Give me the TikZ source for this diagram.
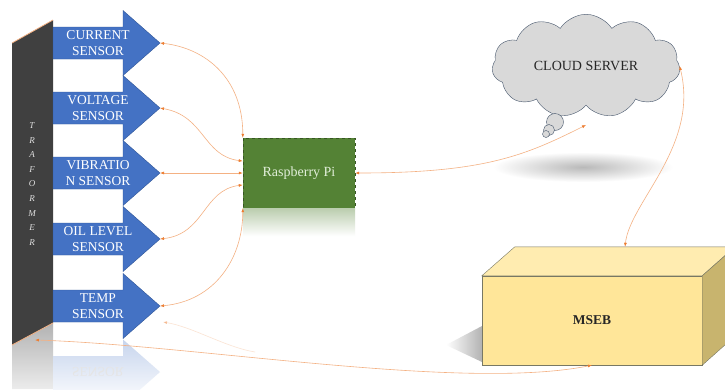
\documentclass[tikz,border=0pt]{standalone}
\usepackage{fontspec}
\setmainfont{Liberation Serif}
\usepackage{tikz}
\usetikzlibrary{calc,arrows.meta,positioning,shapes.symbols}
\definecolor{sensorBlue}{RGB}{68,114,196}
\definecolor{sensorBlueDark}{RGB}{47,85,151}
\definecolor{piGreen}{RGB}{84,130,53}
\definecolor{piGreenDark}{RGB}{55,86,35}
\definecolor{piText}{RGB}{226,239,218}
\definecolor{linkOrange}{RGB}{244,177,131}
\definecolor{tipOrange}{RGB}{237,125,49}
\definecolor{trGray}{RGB}{64,64,64}
\definecolor{cloudGray}{RGB}{217,217,217}
\definecolor{cloudEdge}{RGB}{68,84,106}
\definecolor{boxFront}{RGB}{255,230,153}
\definecolor{boxTop}{RGB}{255,236,176}
\definecolor{boxSide}{RGB}{200,180,110}
\definecolor{boxEdge}{RGB}{120,120,100}
\definecolor{darkText}{RGB}{38,38,38}

\tikzset{
  sensorarrow/.style={fill=sensorBlue, draw=sensorBlueDark, line width=0.4pt},
  sensorlabel/.style={text=white, align=center, inner sep=0pt,
    font=\fontsize{13.5}{16}\selectfont},
  link/.style={draw=linkOrange, line width=0.6pt,
    >={Latex[length=4pt,width=3pt,color=tipOrange]}, <->},
  pibox/.style={rectangle, fill=piGreen, draw=piGreenDark, dashed,
    minimum width=112pt, minimum height=70pt, text=piText,
    font=\fontsize{14}{16}\selectfont},
}

\begin{document}
\begin{tikzpicture}[x=1pt, y=-1pt]
    \useasboundingbox (0,0) rectangle (725,389);
    \clip (0,0) rectangle (725,389);
    \fill[white] (0,0) rectangle (725,389);

    % transformer bar and its reflection
    \shade[top color=gray!60, bottom color=gray!15] (12,345) -- (53,323) -- (53,389) -- (12,389) -- cycle;
    \fill[trGray] (12,43) -- (53,20) -- (53,323) -- (12,345) -- cycle;
    \draw[linkOrange, line width=0.8pt] (12,43) -- (53,20);
    \draw[linkOrange, line width=0.8pt] (12,345) -- (53,323);
    \node[font=\fontsize{9}{14.6}\selectfont\itshape, text=gray!25, align=center] (trName) at (32,184) {T\\R\\A\\F\\O\\R\\M\\E\\R};
    \coordinate (trBottom) at (35,340);

    % reflection of the temp sensor
    \shade[top color=sensorBlue!30, bottom color=white] (53,356) -- (123,356) -- (123,339.5) -- (160,372) -- (123,404.5) -- (53,404.5) -- cycle;
    \node[sensorlabel, yscale=-1, transform shape, text=gray!20] (tempEchoText) at (98,372) {SENSOR};

    % sensors
    \draw[sensorarrow] (53,27) -- (123,27) -- (123,10.5) -- (160,43) -- (123,75.5) -- (123,59) -- (53,59) -- cycle;
    \node[sensorlabel] (current) at (98,43) {CURRENT\\SENSOR};
    \coordinate (currentTip) at (160,43);

    \draw[sensorarrow] (53,92) -- (123,92) -- (123,75.5) -- (160,108) -- (123,140.5) -- (123,124) -- (53,124) -- cycle;
    \node[sensorlabel] (voltage) at (98,108) {VOLTAGE\\SENSOR};
    \coordinate (voltageTip) at (160,108);

    \draw[sensorarrow] (53,157) -- (123,157) -- (123,140.5) -- (160,173) -- (123,205.5) -- (123,189) -- (53,189) -- cycle;
    \node[sensorlabel] (vibration) at (98,173) {VIBRATIO\\N SENSOR};
    \coordinate (vibrationTip) at (160,173);

    \draw[sensorarrow] (53,223) -- (123,223) -- (123,206.5) -- (160,239) -- (123,271.5) -- (123,255) -- (53,255) -- cycle;
    \node[sensorlabel] (oil) at (98,239) {OIL LEVEL\\SENSOR};
    \coordinate (oilTip) at (160,239);

    \draw[sensorarrow] (53,290) -- (123,290) -- (123,273.5) -- (160,306) -- (123,338.5) -- (123,322) -- (53,322) -- cycle;
    \node[sensorlabel] (temp) at (98,306) {TEMP\\SENSOR};
    \coordinate (tempTip) at (160,306);
    \coordinate (tempEcho) at (163,322);
    \coordinate (echoEnd) at (255,352);

    % raspberry pi
    \node[pibox] (rpi) at (299,173) {Raspberry Pi};
    \shade[top color=piGreen!40, bottom color=white] (rpi.south west) rectangle ($(rpi.south east)+(0,28)$);

    % cloud server
    \shade[inner color=gray!55, outer color=white] (583,167) ellipse [x radius=90pt, y radius=15pt];
    \node[cloud, cloud puffs=11, cloud puff arc=115, aspect=1.9, fill=cloudGray, draw=cloudEdge,
      minimum width=188pt, minimum height=100pt, text=darkText,
      font=\fontsize{14}{16}\selectfont] (cloud) at (586,66) {CLOUD SERVER};
    \filldraw[fill=cloudGray, draw=cloudEdge] (555,122) circle[radius=8.5pt];
    \filldraw[fill=cloudGray, draw=cloudEdge] (549,130) circle[radius=5.5pt];
    \filldraw[fill=cloudGray, draw=cloudEdge] (546,134) circle[radius=3.5pt];
    \coordinate (cloudIn) at (586,125);

    % mseb box
    \shade[left color=white, right color=gray!60] (446,345) -- (482,326) -- (482,362) -- cycle;
    \node[draw=boxEdge, fill=boxFront, minimum width=220pt, minimum height=89pt, text=darkText,
      font=\fontsize{13.5}{16}\selectfont\bfseries] (mseb) at (592,320.5) {MSEB};
    \draw[fill=boxTop, draw=boxEdge] (mseb.north west) -- ++(33,-29) -- ++(220,0) -- (mseb.north east) -- cycle;
    \draw[fill=boxSide, draw=boxEdge] (mseb.north east) -- ++(33,-29) -- ++(0,89) -- (mseb.south east) -- cycle;
    \coordinate (msebTop) at ($(mseb.north)+(33,-29)$);

    % links
    \draw[link] (currentTip) .. controls +(45,5) and +(0,-60) .. (rpi.north west);
    \draw[link] (voltageTip) .. controls +(45,8) and +(-40,-5) .. (rpi.168);
    \draw[link] (vibrationTip) -- (rpi.west);
    \draw[link] (oilTip) .. controls +(45,-5) and +(-40,5) .. (rpi.192);
    \draw[link] (tempTip) .. controls +(55,-5) and +(0,50) .. (rpi.south west);
    \draw[link] (rpi.east) .. controls +(130,0) and +(-60,30) .. (cloudIn);
    \draw[link] (cloud.east) .. controls +(20,80) and +(5,-45) .. (msebTop);
    \draw[link] (mseb.south) .. controls +(-130,26) and +(160,5) .. (trBottom);
    \draw[link, <-, opacity=0.35] (tempEcho) .. controls +(30,5) and +(-30,-5) .. (echoEnd);
\end{tikzpicture}
\end{document}
